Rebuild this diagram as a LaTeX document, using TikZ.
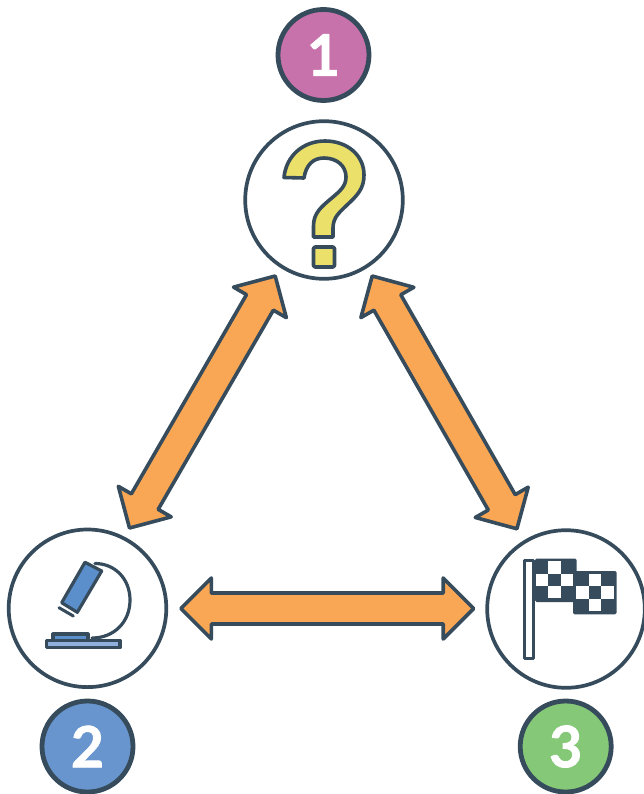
\documentclass[tikz,border=0pt]{standalone}
\usepackage{fontspec}
\newfontfamily\digitfont[Ligatures=TeX,BoldFeatures={FakeBold=1.4}]{Lato}
\usetikzlibrary{calc}
\definecolor{ink}{HTML}{364C5C}
\definecolor{orangefill}{HTML}{F9A754}
\definecolor{pinkfill}{HTML}{C872AB}
\definecolor{bluefill}{HTML}{6895CE}
\definecolor{greenfill}{HTML}{85C878}
\definecolor{yellowfill}{HTML}{EBE06A}
\definecolor{tubefill}{HTML}{5B8FCB}
\definecolor{basefill}{HTML}{8FB0DC}
\tikzset{
  iconcircle/.style={circle,draw=ink,line width=3.7pt,fill=white,minimum size=157.6pt,inner sep=0pt,outer sep=0pt},
  numcircle/.style={circle,draw=ink,line width=4.8pt,minimum size=91pt,inner sep=0pt,outer sep=0pt,text=white,font=\digitfont\bfseries\fontsize{57}{57}\selectfont},
  blockstyle/.style={draw=ink,line width=3.6pt,line join=round,fill=orangefill},
  iconline/.style={draw=ink,line width=3.6pt,line join=round,line cap=round},
  micline/.style={iconline,line width=3.2pt},
  darkcell/.style={fill=ink,rounded corners=1.5pt},
  whitecell/.style={fill=white}
}
\newcommand{\blockarrow}[2]{%
  \draw[blockstyle] (#1)
    -- ($(#1)!30.5pt!(#2)!30.5pt!90:(#2)$)
    -- ($(#1)!30.5pt!(#2)!15.5pt!90:(#2)$)
    -- ($(#2)!30.5pt!(#1)!-15.5pt!90:(#1)$)
    -- ($(#2)!30.5pt!(#1)!-30.5pt!90:(#1)$)
    -- (#2)
    -- ($(#2)!30.5pt!(#1)!30.5pt!90:(#1)$)
    -- ($(#2)!30.5pt!(#1)!15.5pt!90:(#1)$)
    -- ($(#1)!30.5pt!(#2)!-15.5pt!90:(#2)$)
    -- ($(#1)!30.5pt!(#2)!-30.5pt!90:(#2)$)
    -- cycle;}
\begin{document}
\begin{tikzpicture}[x=1pt,y=-1pt]
\useasboundingbox[fill=white] (0,0) rectangle (643,794);
% circles
\node[iconcircle] (question) at (324,200) {};
\node[iconcircle] (micro) at (87.5,608.3) {};
\node[iconcircle] (flag) at (566,609) {};
\node[numcircle,fill=pinkfill] (one) at (323.5,55) {1};
\node[numcircle,fill=bluefill] (two) at (87.5,746.5) {2};
\node[numcircle,fill=greenfill] (three) at (565.7,746.5) {3};
% arrow ends
\coordinate (qleft) at (275.2,276);
\coordinate (mtop) at (129.5,528);
\coordinate (qright) at (372.2,276);
\coordinate (ftop) at (516.9,528.8);
\coordinate (mright) at (180.8,608.5);
\coordinate (fleft) at (473.7,608.5);
\blockarrow{qleft}{mtop}
\blockarrow{qright}{ftop}
\blockarrow{mright}{fleft}
% question mark
\draw[iconline,fill=yellowfill] (313.5,237) -- (333,237) -- (333,228)
  .. controls (333,217) and (340,212) .. (347,205)
  .. controls (358,195) and (364,188) .. (364,175)
  .. controls (364,155) and (347,141) .. (325,141)
  .. controls (303,141) and (286,156) .. (284,177.5)
  -- (304,178)
  .. controls (306,165) and (313,158) .. (324,158)
  .. controls (337,158) and (346,166) .. (346,177)
  .. controls (346,186) and (340,191) .. (333,197)
  .. controls (321,207) and (313.5,213) .. (313.5,226)
  -- cycle;
\draw[iconline,fill=yellowfill,rounded corners=1.5pt] (313.5,247) rectangle (334.5,267);
% microscope
\draw[micline] (95,563.5) .. controls (115,563.5) and (130,579) .. (130,600)
  .. controls (130,622) and (114,638) .. (92,638);
\draw[micline,fill=tubefill] (85,562.3) -- (101.7,571) -- (77.3,612.3) -- (61.7,602.7) -- cycle;
\draw[micline,line width=3pt] (59,607.7) -- (73.3,616);
\draw[micline,fill=tubefill] (53,640) -- (53,634) -- (88,634) -- (88,640);
\draw[micline,fill=basefill] (46.5,640.5) rectangle (120,647.8);
% flag
\fill[darkcell] (535,558.5) rectangle (576.5,602);
\fill[darkcell] (573,571) rectangle (616.5,614.3);
\fill[whitecell] (548,561.3) rectangle (560.7,573.7);
\fill[whitecell] (535.5,573.7) rectangle (548,586);
\fill[whitecell] (560.7,573.7) rectangle (573,586);
\fill[whitecell] (548,586) rectangle (560.7,598);
\fill[whitecell] (588.7,573.7) rectangle (600.7,586.3);
\fill[whitecell] (575.5,586.3) rectangle (588.7,598.7);
\fill[whitecell] (600.7,586.3) rectangle (613.7,598.7);
\fill[whitecell] (588.7,598.7) rectangle (600.7,611.3);
\draw[micline,fill=white] (524.7,560.5) rectangle (533.5,658.5);
\end{tikzpicture}
\end{document}
